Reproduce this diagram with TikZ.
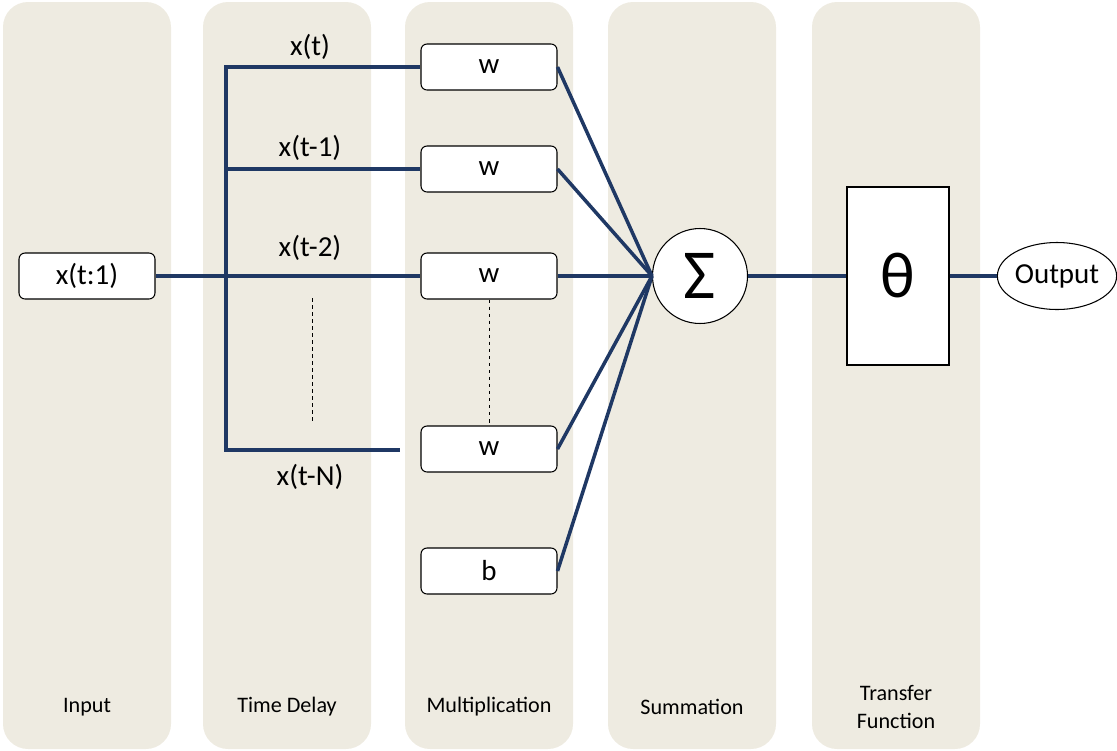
\documentclass[tikz,border=0pt]{standalone}
\usepackage{fontspec}
\setmainfont{Carlito}
\usetikzlibrary{positioning}
\usetikzlibrary{shapes.geometric}

\definecolor{lanefill}{HTML}{EEEBE1}
\definecolor{wirecol}{HTML}{1F3864}

\begin{document}
\begin{tikzpicture}[x=0.02cm,y=-0.02cm]
      \tikzset{lane/.style={fill=lanefill, draw=none, rounded corners=0.5cm}};
      \tikzset{lanelabel/.style={font=\fontsize{12.6}{16}\selectfont, align=center}};
      \tikzset{wbox/.style={draw, line width=0.6pt, fill=white, rounded corners=1.2mm,
        minimum width=2.72cm, minimum height=0.92cm, inner sep=0pt, font=\fontsize{16.5}{18}\selectfont}};
      \tikzset{tap/.style={font=\fontsize{16.5}{18}\selectfont}};
      \tikzset{wire/.style={draw=wirecol, line width=2pt}};
      \tikzset{dots/.style={draw, line width=0.5pt, dash pattern=on 2pt off 2pt}};
      \useasboundingbox (0,0) rectangle (1117,751);

      % columns
      \foreach \cx/\name in {87/Input, 287/Time Delay, 489/Multiplication, 692/Summation, 896/{Transfer\\Function}}{
        \fill[lane] (\cx-84,2) rectangle (\cx+84,749);
        \node[lanelabel] at (\cx,707) {\name};
      }

      % blocks
      \node[wbox](xin) at (87,276){x(t:1)};
      \node[wbox](w0) at (489,67){w};
      \node[wbox](w1) at (489,169){w};
      \node[wbox](w2) at (489,276){w};
      \node[wbox](wN) at (489,449){w};
      \node[wbox](bias) at (489,571){b};
      \node[circle, draw, line width=0.6pt, fill=white, minimum size=1.9cm, inner sep=0pt,
        font=\fontsize{40}{42}\selectfont](sum) at (700,276){Σ};
      \node[draw, line width=0.6pt, fill=white, minimum width=2.04cm, minimum height=3.56cm,
        font=\fontsize{37}{40}\selectfont](theta) at (898,276){θ};
      \node[ellipse, draw, line width=0.6pt, fill=white, minimum width=2.34cm, minimum height=1.34cm,
        inner sep=0pt, font=\fontsize{16.5}{18}\selectfont](out) at (1057,276){Output};

      % delay taps
      \node[tap](lt0) at (310,47){x(t)};
      \node[tap](lt1) at (310,148){x(t-1)};
      \node[tap](lt2) at (310,248){x(t-2)};
      \node[tap](ltN) at (310,477){x(t-N)};

      \coordinate (bus0) at (226,67);
      \coordinate (busN) at (226,450);
      \coordinate (tipN) at (400,450);
      \draw[wire] (w0.west) -- (bus0) -- (busN) -- (tipN);
      \draw[wire] (bus0 |- w1) -- (w1.west);
      \draw[wire] (xin.east) -- (w2.west);

      % dotted gaps
      \coordinate (gaptop) at (312,298);
      \coordinate (gapbot) at (312,421);
      \draw[dots] (gaptop) -- (gapbot);
      \draw[dots] (w2.south) -- (wN.north);

      % weights into the sum
      \foreach \n in {w0,w1,w2,wN,bias}
        \draw[wire] (\n.east) -- (sum.west);
      \draw[wire] (sum.east) -- (theta.west);
      \draw[wire] (theta.east) -- (out.west);
\end{tikzpicture}
\end{document}
